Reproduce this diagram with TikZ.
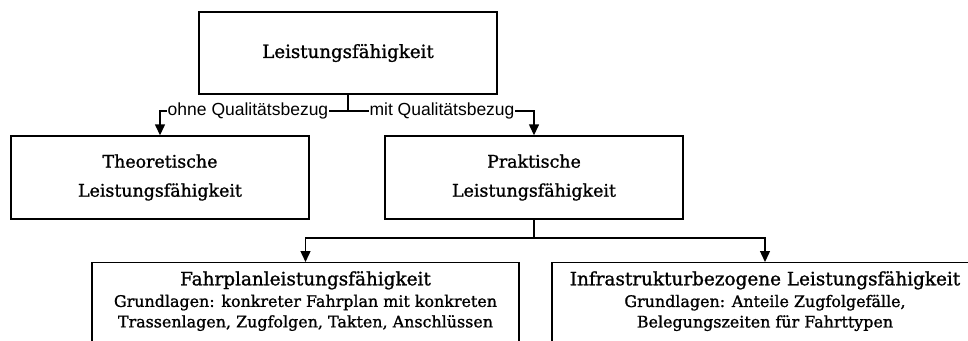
\documentclass[tikz,border=0pt]{standalone}
\usepackage{fontspec}
\setmainfont{DejaVu Serif}[FakeBold=1.2]
\newfontfamily\lblfont{Liberation Sans}
\usetikzlibrary{arrows.meta}

\tikzset{
  box/.style={draw, line width=1.4pt, rectangle, inner sep=0pt, align=center},
  conn/.style={line width=1.4pt},
  arr/.style={conn, -{Triangle[length=11pt,width=10pt]}},
  lbl/.style={fill=white, inner sep=1pt, font=\lblfont\fontsize{17.5}{20}\selectfont},
  boxtext/.style={align=center, inner sep=0pt},
}

\begin{document}
\begin{tikzpicture}[x=1pt, y=-1pt]
  \useasboundingbox (0,0) rectangle (968,340);
  \clip (0,0) rectangle (968,340);

  % top level
  \node[box, minimum width=298pt, minimum height=82pt,
        font=\fontsize{18.2}{22}\selectfont] (lf) at (348,53) {Leistungsfähigkeit};

  % second level
  \node[box, minimum width=298pt, minimum height=83pt,
        font=\fontsize{17.4}{29}\selectfont] (theo) at (160,177.5)
        {Theoretische\\Leistungsfähigkeit};
  \node[box, minimum width=298pt, minimum height=83pt,
        font=\fontsize{17.4}{29}\selectfont] (prak) at (534,177.5)
        {Praktische\\Leistungsfähigkeit};

  % third level (boxes run past the lower edge)
  \node[box, minimum width=427pt, minimum height=110pt, anchor=north] (fp) at (305.5,262) {};
  \node[box, minimum width=426pt, minimum height=110pt, anchor=north] (infra) at (765,262) {};

  \node[boxtext, anchor=north, font=\fontsize{18.4}{22}\selectfont] (fptitle)
        at ([yshift=-9pt]fp.north) {Fahrplanleistungsfähigkeit};
  \node[boxtext, anchor=north, font=\fontsize{15.9}{20.5}\selectfont] (fpbody)
        at ([yshift=-5pt]fptitle.south)
        {Grundlagen: konkreter Fahrplan mit konkreten\\Trassenlagen, Zugfolgen, Takten, Anschlüssen};

  \node[boxtext, anchor=north, font=\fontsize{18.4}{22}\selectfont] (intitle)
        at ([yshift=-9pt]infra.north) {Infrastrukturbezogene Leistungsfähigkeit};
  \node[boxtext, anchor=north, font=\fontsize{15.9}{20.5}\selectfont] (inbody)
        at ([yshift=-5pt]intitle.south)
        {Grundlagen: Anteile Zugfolgefälle,\\Belegungszeiten für Fahrttypen};

  % connectors, first split
  \coordinate (split1) at (348,111);
  \draw[conn] (lf.south) -- (split1);
  \draw[arr] (split1) -| (theo.north);
  \draw[arr] (split1) -| (prak.north);
  \node[lbl] (ohne) at (248,111) {ohne Qualitätsbezug};
  \node[lbl] (mit) at (442,111) {mit Qualitätsbezug};

  % connectors, second split
  \coordinate (split2) at (534,238);
  \draw[conn] (prak.south) -- (split2);
  \draw[arr] (split2) -| (fp.north);
  \draw[arr] (split2) -| (infra.north);
\end{tikzpicture}
\end{document}
